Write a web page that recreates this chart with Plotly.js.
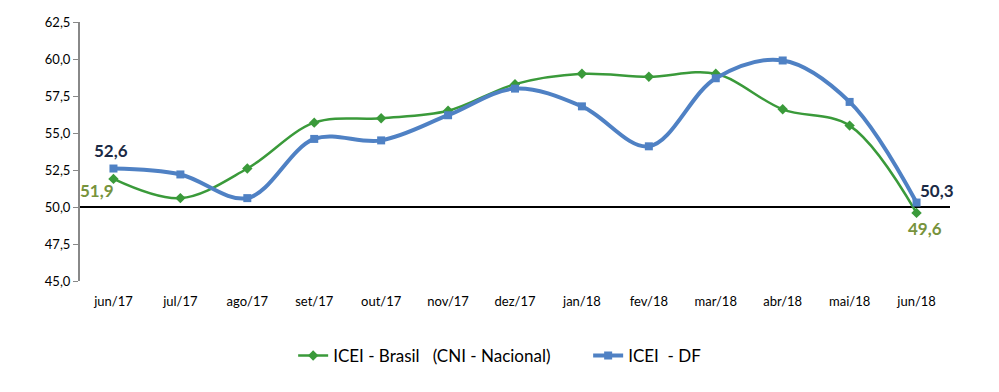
<!DOCTYPE html>
<html><head><meta charset="utf-8">
<script src="https://cdn.plot.ly/plotly-3.0.1.min.js"></script>
<style>html,body{margin:0;padding:0;background:#fff}#c{width:999px;height:392px}</style>
</head><body><div id="c"></div>
<script>
const months = ['jun/17','jul/17','ago/17','set/17','out/17','nov/17','dez/17','jan/18','fev/18','mar/18','abr/18','mai/18','jun/18'];
const brasil = [51.9, 50.6, 52.6, 55.7, 56.0, 56.5, 58.3, 59.0, 58.8, 59.0, 56.6, 55.5, 49.6];
const df = [52.6, 52.2, 50.6, 54.6, 54.5, 56.2, 58.0, 56.8, 54.1, 58.7, 59.9, 57.1, 50.3];
const yTicks = [45, 47.5, 50, 52.5, 55, 57.5, 60, 62.5];
const nameBrasil = 'ICEI - Brasil\u00A0\u00A0 (CNI - Nacional)';
const nameDF = 'ICEI\u00A0 - DF';

const font = 'Lato, "Open Sans", sans-serif';
const last = months.length - 1;
const fmt = v => v.toFixed(1).replace('.', ',');

const traces = [
  {x: months, y: brasil, name: nameBrasil, type: 'scatter', mode: 'lines+markers',
   line: {color: '#3a9a3a', width: 2.5, shape: 'spline', smoothing: 1},
   marker: {symbol: 'diamond', size: 8, color: '#3a9a3a'}},
  {x: months, y: df, name: nameDF, type: 'scatter', mode: 'lines+markers',
   line: {color: '#4f81c4', width: 4, shape: 'spline', smoothing: 1},
   marker: {symbol: 'square', size: 8, color: '#4f81c4'}}
];

const annotations = [
  {x: months[0], y: df[0], text: '<b>' + fmt(df[0]) + '</b>', showarrow: false, yshift: 18, xshift: -2, font: {family: font, size: 17, color: '#1b2a45'}},
  {x: months[0], y: brasil[0], text: '<b>' + fmt(brasil[0]) + '</b>', showarrow: false, yshift: -12, xshift: -16, font: {family: font, size: 17, color: '#77933c'}},
  {x: months[last], y: df[last], text: '<b>' + fmt(df[last]) + '</b>', showarrow: false, yshift: 12, xshift: 20, font: {family: font, size: 17, color: '#1b2a45'}},
  {x: months[last], y: brasil[last], text: '<b>' + fmt(brasil[last]) + '</b>', showarrow: false, yshift: -16, xshift: 8, font: {family: font, size: 17, color: '#77933c'}}
];

const layout = {
  width: 999, height: 392,
  margin: {l: 80, r: 49, t: 22, b: 111},
  paper_bgcolor: '#fff', plot_bgcolor: '#fff',
  separators: ',.',
  font: {family: font, size: 13, color: '#000'},
  showlegend: true,
  legend: {orientation: 'h', x: 0.245, xanchor: 'left', y: -0.22, yanchor: 'top',
           font: {family: font, size: 17, color: '#000'}, itemwidth: 30, entrywidth: 250,
           tracegroupgap: 0},
  xaxis: {type: 'category', range: [-0.5, 12.5], showline: false, showgrid: false, zeroline: false,
          ticks: 'outside', ticklen: 8, tickcolor: 'rgba(0,0,0,0)',
          tickfont: {family: font, size: 13, color: '#000'}},
  yaxis: {range: [45, 62.5], tickvals: yTicks, tickformat: '.1f', showgrid: false, zeroline: false,
          showline: true, linecolor: '#888', linewidth: 2, ticks: 'outside', ticklen: 5, tickcolor: '#888',
          tickfont: {family: font, size: 13, color: '#000'}},
  shapes: [{type: 'line', xref: 'paper', x0: 0, x1: 1, yref: 'y', y0: 50, y1: 50,
            line: {color: '#000', width: 2}, layer: 'below'}],
  annotations: annotations
};

Plotly.newPlot('c', traces, layout, {displayModeBar: false, staticPlot: true});
</script></body></html>
